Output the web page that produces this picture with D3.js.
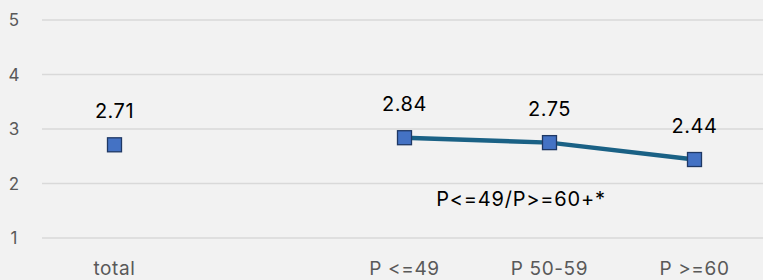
<!DOCTYPE html>
<html>
<head>
<meta charset="utf-8">
<script src="https://cdn.jsdelivr.net/npm/d3@7"></script>
<style>
  body { margin: 0; background: #f2f2f2; }
  text { font-family: Inter, "Open Sans", sans-serif; }
</style>
</head>
<body>
<script>
var categories = ["total", "", "P <=49", "P 50-59", "P >=60"];
var values = [2.71, null, 2.84, 2.75, 2.44];
var lineGroup = ["P <=49", "P 50-59", "P >=60"];
var yTicks = [1, 2, 3, 4, 5];
var note = "P<=49/P>=60+*";

var width = 763;
var height = 280;

var svg = d3.select("body").append("svg")
  .attr("width", width)
  .attr("height", height)
  .style("background", "#f2f2f2");

var x = d3.scaleBand()
  .domain(categories)
  .range([42, 767]);

var y = d3.scaleLinear()
  .domain([1, 5])
  .range([238, 20]);

// gridlines
svg.append("g")
  .selectAll("line")
  .data(yTicks)
  .enter().append("line")
  .attr("x1", 42)
  .attr("x2", width)
  .attr("y1", function (d) { return y(d); })
  .attr("y2", function (d) { return y(d); })
  .attr("stroke", "#d9d9d9")
  .attr("stroke-width", 1.5);

// y labels
svg.append("g")
  .selectAll("text")
  .data(yTicks)
  .enter().append("text")
  .attr("x", 14)
  .attr("y", function (d) { return y(d) + 6; })
  .attr("text-anchor", "middle")
  .attr("fill", "#595959")
  .style("font-size", "17px")
  .text(function (d) { return d; });

// x labels
svg.append("g")
  .selectAll("text")
  .data(categories)
  .enter().append("text")
  .attr("x", function (d) { return x(d) + x.bandwidth() / 2; })
  .attr("y", 275)
  .attr("text-anchor", "middle")
  .attr("fill", "#595959")
  .style("font-size", "19px")
  .style("letter-spacing", "0.6px")
  .text(function (d) { return d; });

var points = categories.map(function (c, i) { return { cat: c, v: values[i] }; })
  .filter(function (d) { return d.v != null; });

var line = d3.line()
  .x(function (d) { return x(d.cat) + x.bandwidth() / 2; })
  .y(function (d) { return y(d.v); });

svg.append("path")
  .datum(points.filter(function (d) { return lineGroup.indexOf(d.cat) >= 0; }))
  .attr("d", line)
  .attr("fill", "none")
  .attr("stroke", "#1a6185")
  .attr("stroke-width", 4.5);

svg.append("g")
  .selectAll("rect")
  .data(points)
  .enter().append("rect")
  .attr("x", function (d) { return x(d.cat) + x.bandwidth() / 2 - 7; })
  .attr("y", function (d) { return y(d.v) - 7; })
  .attr("width", 14)
  .attr("height", 14)
  .attr("fill", "#4472c4")
  .attr("stroke", "#1f3864")
  .attr("stroke-width", 1.3);

svg.append("g")
  .selectAll("text")
  .data(points)
  .enter().append("text")
  .attr("x", function (d) { return x(d.cat) + x.bandwidth() / 2; })
  .attr("y", function (d) { return y(d.v) - 27; })
  .attr("text-anchor", "middle")
  .attr("fill", "#000")
  .style("font-size", "20px")
  .style("letter-spacing", "0.5px")
  .text(function (d) { return d.v.toFixed(2); });

svg.append("text")
  .attr("x", 521)
  .attr("y", 206)
  .attr("text-anchor", "middle")
  .attr("fill", "#000")
  .style("font-size", "20px")
  .style("letter-spacing", "0.8px")
  .text(note);
</script>
</body>
</html>
